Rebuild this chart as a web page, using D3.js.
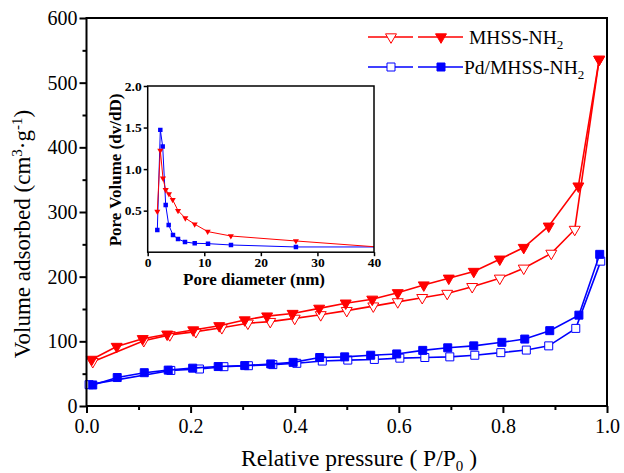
<!DOCTYPE html>
<html>
<head>
<meta charset="utf-8">
<script src="https://cdn.jsdelivr.net/npm/d3@7"></script>
<style>
  html, body { margin: 0; padding: 0; background: #fff; }
  svg { display: block; font-family: "Liberation Serif", "Times New Roman", serif; }
</style>
</head>
<body>
<svg id="chart" width="624" height="473"></svg>
<script>
// N2 adsorption–desorption isotherms (relative pressure vs. volume adsorbed)
const mhssAdsX = [0.010, 0.058, 0.108, 0.155, 0.205, 0.255, 0.304, 0.347, 0.396, 0.447, 0.498, 0.549, 0.598, 0.648, 0.696, 0.744, 0.794, 0.840, 0.888, 0.945, 0.985];
const mhssAdsY = [72, 92, 104, 111, 117.5, 124, 133, 139, 143, 151, 159, 165, 175, 187, 197.5, 208, 227, 245, 278, 340, 536];
const mhssDesX = [0.985, 0.938, 0.893, 0.840, 0.794, 0.741, 0.693, 0.645, 0.598, 0.551, 0.500, 0.450, 0.400, 0.353, 0.310, 0.260, 0.210, 0.160, 0.110, 0.012];
const mhssDesY = [536, 273, 236, 213, 197.5, 184.5, 174, 167.5, 161, 154.5, 147.5, 141, 135.5, 130.5, 128, 121, 115, 110, 101, 68.5];
const pdAdsX = [0.012, 0.059, 0.111, 0.157, 0.204, 0.253, 0.304, 0.354, 0.397, 0.448, 0.496, 0.546, 0.596, 0.646, 0.694, 0.744, 0.798, 0.842, 0.890, 0.946, 0.986];
const pdAdsY = [32.5, 44, 51.5, 55.5, 58.5, 61, 62.5, 65, 67.5, 75, 76, 78.5, 80.5, 86, 90, 93, 98.5, 103.5, 116.5, 140.5, 234.5];
const pdDesX = [0.988, 0.940, 0.888, 0.845, 0.796, 0.746, 0.698, 0.650, 0.602, 0.553, 0.502, 0.453, 0.404, 0.358, 0.311, 0.264, 0.217, 0.162, 0.005];
const pdDesY = [224, 120, 93, 86.5, 82.5, 78.5, 76, 75, 74, 72, 71, 69.5, 66, 64, 62.3, 60.8, 57.2, 55, 33];

// BJH pore size distribution (inset)
const mhssPoreD = [1.70, 2.23, 2.70, 3.18, 3.76, 4.42, 5.36, 6.65, 8.31, 10.6, 14.7, 26.2, 42];
const mhssPoreV = [0.49, 1.225, 0.89, 0.75, 0.70, 0.63, 0.50, 0.41, 0.337, 0.248, 0.195, 0.135, 0.056];
const pdPoreD = [1.70, 2.23, 2.65, 3.18, 3.71, 4.47, 5.36, 6.59, 8.31, 10.66, 14.72, 26.2, 42];
const pdPoreV = [0.267, 1.472, 1.271, 0.569, 0.328, 0.207, 0.159, 0.123, 0.107, 0.103, 0.087, 0.063, 0.063];

const xTicks = [0, 0.2, 0.4, 0.6, 0.8, 1.0];
const yTicks = [0, 100, 200, 300, 400, 500, 600];
const insetXTicks = [0, 10, 20, 30, 40];
const insetYTicks = [0.5, 1.0, 1.5, 2.0];

const RED = "#ff0000", BLUE = "#0000ff";
const zip = (xs, ys) => xs.map((x, i) => [x, ys[i]]);

const svg = d3.select("#chart");

// ---------- main panel ----------
const M = { left: 86.5, right: 607, top: 18, bottom: 406 };
const x = d3.scaleLinear().domain([0, 1]).range([M.left, M.right]);
const y = d3.scaleLinear().domain([0, 600]).range([M.bottom, M.top]);

const triDown = d3.symbol().type(d3.symbolTriangle).size(52);
const square = d3.symbol().type(d3.symbolSquare).size(64);

function drawSeries(g, pts, sx, sy, color, sym, filled, lw) {
  g.append("path")
    .datum(pts)
    .attr("fill", "none")
    .attr("stroke", color)
    .attr("stroke-width", lw)
    .attr("d", d3.line().x(d => sx(d[0])).y(d => sy(d[1])));
  g.selectAll(null).data(pts).enter().append("path")
    .attr("d", sym)
    .attr("transform", d => `translate(${sx(d[0])},${sy(d[1])})` + (sym === triDown ? " rotate(180)" : ""))
    .attr("fill", filled ? color : "#fff")
    .attr("stroke", color)
    .attr("stroke-width", 1);
}

const main = svg.append("g");
// desorption (open) drawn first, adsorption (filled) on top
drawSeries(main, zip(pdDesX, pdDesY), x, y, BLUE, square, false, 1.6);
drawSeries(main, zip(pdAdsX, pdAdsY), x, y, BLUE, square, true, 1.6);
drawSeries(main, zip(mhssDesX, mhssDesY), x, y, RED, triDown, false, 1.6);
drawSeries(main, zip(mhssAdsX, mhssAdsY), x, y, RED, triDown, true, 1.6);

// frame
svg.append("rect")
  .attr("x", M.left).attr("y", M.top)
  .attr("width", M.right - M.left).attr("height", M.bottom - M.top)
  .attr("fill", "none").attr("stroke", "#000").attr("stroke-width", 2);

// axes
const xAxis = svg.append("g").attr("transform", `translate(0,${M.bottom})`)
  .call(d3.axisBottom(x).tickValues(xTicks).tickFormat(d3.format(".1f")).tickSize(7).tickPadding(6));
svg.append("g").attr("transform", `translate(0,${M.bottom})`)
  .call(d3.axisBottom(x).tickValues([0.1, 0.3, 0.5, 0.7, 0.9]).tickFormat("").tickSize(4));
const yAxis = svg.append("g").attr("transform", `translate(${M.left},0)`)
  .call(d3.axisLeft(y).tickValues(yTicks).tickSize(7).tickPadding(2));
svg.append("g").attr("transform", `translate(${M.left},0)`)
  .call(d3.axisLeft(y).tickValues([50, 150, 250, 350, 450, 550]).tickFormat("").tickSize(4));

svg.selectAll(".domain").remove();
svg.selectAll(".tick line").attr("stroke", "#000").attr("stroke-width", 2);
xAxis.selectAll("text").attr("font-size", 20).attr("fill", "#000").attr("font-family", "Liberation Serif");
yAxis.selectAll("text").attr("font-size", 20).attr("fill", "#000").attr("font-family", "Liberation Serif");

// axis titles
const xt = svg.append("text").attr("x", 359).attr("y", 466).attr("text-anchor", "middle")
  .attr("font-size", 23.5).attr("fill", "#000");
xt.append("tspan").text("Relative pressure ( P/P");
xt.append("tspan").attr("dy", 5).attr("font-size", 15).text("0");
xt.append("tspan").attr("dy", -5).text(" )");

const yt = svg.append("text").attr("transform", "translate(30,234) rotate(-90)").attr("text-anchor", "middle")
  .attr("font-size", 23).attr("fill", "#000");
yt.append("tspan").text("Volume adsorbed (cm");
yt.append("tspan").attr("dy", -8).attr("font-size", 15).text("3");
yt.append("tspan").attr("dy", 8).text("·g");
yt.append("tspan").attr("dy", -8).attr("font-size", 15).text("-1");
yt.append("tspan").attr("dy", 8).text(")");

// legend
const legend = svg.append("g");
function legendRow(yPos, color, sym) {
  [[368, 413, 391, false], [418, 463, 441, true]].forEach(([a, b, c, filled]) => {
    legend.append("line").attr("x1", a).attr("x2", b).attr("y1", yPos).attr("y2", yPos)
      .attr("stroke", color).attr("stroke-width", 1.6);
    legend.append("path").attr("d", sym)
      .attr("transform", `translate(${c},${yPos})` + (sym === triDown ? " rotate(180)" : ""))
      .attr("fill", filled ? color : "#fff").attr("stroke", color).attr("stroke-width", 1);
  });
}
legendRow(37, RED, triDown);
legendRow(67, BLUE, square);
const l1 = legend.append("text").attr("x", 469).attr("y", 43.5).attr("font-size", 19.5).attr("fill", "#000");
l1.append("tspan").text("MHSS-NH");
l1.append("tspan").attr("dy", 5).attr("font-size", 13).text("2");
const l2 = legend.append("text").attr("x", 464).attr("y", 73.5).attr("font-size", 19.5).attr("fill", "#000");
l2.append("tspan").text("Pd/MHSS-NH");
l2.append("tspan").attr("dy", 5).attr("font-size", 13).text("2");

// ---------- inset: pore size distribution ----------
const I = { left: 147.7, right: 374, top: 86, bottom: 252.2 };
const ix = d3.scaleLinear().domain([0, 40]).range([I.left, I.right]);
const iy = d3.scaleLinear().domain([0, 2]).range([I.bottom, I.top]);

svg.append("rect").attr("x", I.left).attr("y", I.top)
  .attr("width", I.right - I.left).attr("height", I.bottom - I.top).attr("fill", "#fff");

svg.append("clipPath").attr("id", "insetClip").append("rect")
  .attr("x", I.left).attr("y", I.top - 10).attr("width", I.right - I.left).attr("height", I.bottom - I.top + 10);

const inset = svg.append("g").attr("clip-path", "url(#insetClip)");
const smallTri = d3.symbol().type(d3.symbolTriangle).size(16);
const smallSq = d3.symbol().type(d3.symbolSquare).size(20);
function insetSeries(pts, color, sym) {
  inset.append("path").datum(pts).attr("fill", "none").attr("stroke", color).attr("stroke-width", 1)
    .attr("d", d3.line().x(d => ix(d[0])).y(d => iy(d[1])));
  inset.selectAll(null).data(pts.filter(d => d[0] < 40)).enter().append("path")
    .attr("d", sym)
    .attr("transform", d => `translate(${ix(d[0])},${iy(d[1])})` + (sym === smallTri ? " rotate(180)" : ""))
    .attr("fill", color);
}
insetSeries(zip(pdPoreD, pdPoreV), BLUE, smallSq);
insetSeries(zip(mhssPoreD, mhssPoreV), RED, smallTri);

svg.append("rect").attr("x", I.left).attr("y", I.top)
  .attr("width", I.right - I.left).attr("height", I.bottom - I.top)
  .attr("fill", "none").attr("stroke", "#000").attr("stroke-width", 1.5);

const ixAxis = svg.append("g").attr("transform", `translate(0,${I.bottom})`)
  .call(d3.axisBottom(ix).tickValues(insetXTicks).tickSize(4).tickPadding(1));
const iyAxis = svg.append("g").attr("transform", `translate(${I.left},0)`)
  .call(d3.axisLeft(iy).tickValues(insetYTicks).tickFormat(d3.format(".1f")).tickSize(4).tickPadding(2));
[ixAxis, iyAxis].forEach(a => {
  a.select(".domain").remove();
  a.selectAll(".tick line").attr("stroke", "#000").attr("stroke-width", 1.5);
  a.selectAll("text").attr("font-size", 13.5).attr("font-weight", "bold").attr("fill", "#000")
    .attr("font-family", "Liberation Serif");
});

svg.append("text").attr("x", 254).attr("y", 285).attr("text-anchor", "middle")
  .attr("font-size", 17).attr("font-weight", "bold").attr("fill", "#000").text("Pore diameter (nm)");
svg.append("text").attr("transform", "translate(121,170) rotate(-90)").attr("text-anchor", "middle")
  .attr("font-size", 17).attr("font-weight", "bold").attr("fill", "#000").text("Pore Volume (dv/dD)");
</script>
</body>
</html>
